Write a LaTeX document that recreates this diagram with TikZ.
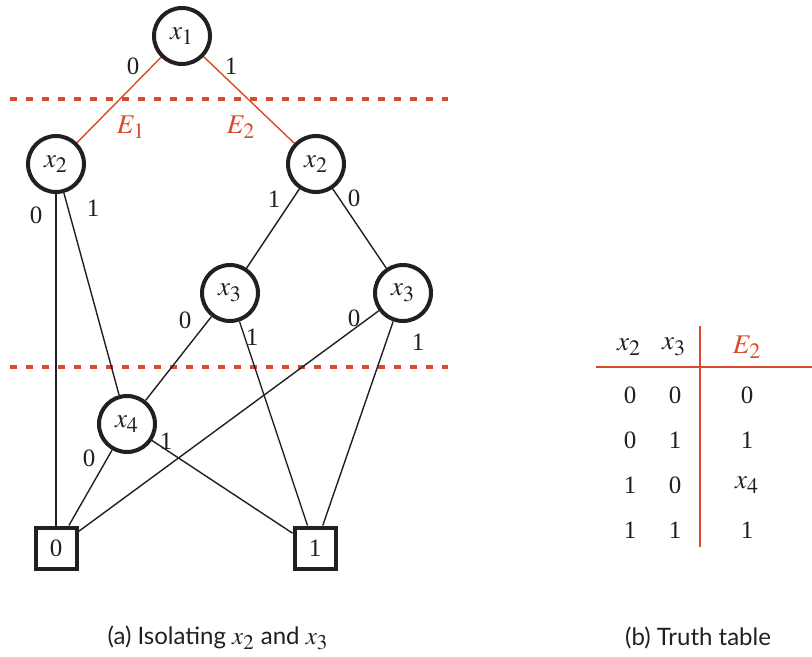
\documentclass[tikz,border=0pt]{standalone}
\usepackage{mathptmx}
\usepackage{fontspec}
\setmainfont{Liberation Serif}
\setsansfont{Lato}
\DeclareMathSizes{12.5}{13.5}{11}{8}
\DeclareMathSizes{12}{12.5}{10.5}{8}
\usetikzlibrary{positioning}
\definecolor{cutred}{HTML}{D84A2B}
\definecolor{ink}{HTML}{231F20}

\begin{document}
\begin{tikzpicture}[x=0.5pt, y=-0.5pt, font=\fontsize{12.5}{14}\selectfont, color=ink,
    var/.style={circle, draw, line width=2pt, minimum size=28pt, inner sep=0pt},
    leaf/.style={rectangle, draw, line width=2pt, minimum size=20.5pt, inner sep=0pt},
    arc/.style={line width=0.7pt},
    cutarc/.style={line width=0.7pt, cutred},
    cutline/.style={cutred, line width=2pt, dash pattern=on 3.6pt off 4.4pt},
    lbl/.style={inner sep=0pt},
    rule/.style={cutred, line width=0.8pt},
    caption/.style={font=\sffamily\fontsize{12}{14}\selectfont}]
    \useasboundingbox (0,0) rectangle (812,657);
    % nodes of the diagram
    \node[var] (x1) at (182,36) {$x_1$};
    \node[var] (x2a) at (56,164) {$x_2$};
    \node[var] (x2b) at (316,164) {$x_2$};
    \node[var] (x3a) at (230,293) {$x_3$};
    \node[var] (x3b) at (403,293) {$x_3$};
    \node[var] (x4) at (127,424) {$x_4$};
    \node[leaf] (t0) at (56,548) {0};
    \node[leaf] (t1) at (315,548) {1};
    % cuts
    \coordinate (cutAL) at (10,99);
    \coordinate (cutAR) at (448,99);
    \coordinate (cutBL) at (10,367);
    \coordinate (cutBR) at (448,367);
    \draw[cutline] (cutAL) -- (cutAR);
    \draw[cutline] (cutBL) -- (cutBR);
    % edges
    \draw[cutarc] (x1) -- (x2a);
    \draw[cutarc] (x1) -- (x2b);
    \draw[arc, line width=1pt] (x2a) -- (t0);
    \draw[arc] (x2a) -- (x4);
    \draw[arc] (x2b) -- (x3a);
    \draw[arc] (x2b) -- (x3b);
    \draw[arc] (x3a) -- (x4);
    \draw[arc] (x3a) -- (t1);
    \draw[arc] (x3b) -- (t0);
    \draw[arc] (x3b) -- (t1);
    \draw[arc] (x4) -- (t0);
    \draw[arc] (x4) -- (t1);
    % edge labels
    \node[lbl] (l1a) at (133,66) {0};
    \node[lbl] (l1b) at (231,66) {1};
    \node[lbl, cutred] (e1) at (131,127) {$E_1$};
    \node[lbl, cutred] (e2) at (241,127) {$E_2$};
    \node[lbl] (l2a) at (36,215) {0};
    \node[lbl] (l2b) at (93,208) {1};
    \node[lbl] (l3a) at (274,199) {1};
    \node[lbl] (l3b) at (354,198) {0};
    \node[lbl] (l4a) at (185,320) {0};
    \node[lbl] (l4b) at (252,337) {1};
    \node[lbl] (l5a) at (354,318) {0};
    \node[lbl] (l5b) at (418,342) {1};
    \node[lbl] (l6a) at (89,458) {0};
    \node[lbl] (l6b) at (166,441) {1};
    % truth table
    \coordinate (vtop) at (700,326);
    \coordinate (vbot) at (700,547);
    \coordinate (hleft) at (596,367);
    \coordinate (hright) at (812,367);
    \draw[rule] (vtop) -- (vbot);
    \draw[rule] (hleft) -- (hright);
    \node (hx2) at (629,347) {$x_2$};
    \node (hx3) at (674,347) {$x_3$};
    \node[cutred] (he2) at (747,347) {$E_2$};
    \foreach \a/\b/\e [count=\i] in {0/0/0, 0/1/1, 1/0/$x_4$, 1/1/1} {
      \node (ra\i) at (630,350+45*\i) {\a};
      \node (rb\i) at (675,350+45*\i) {\b};
      \node (re\i) at (747,350+45*\i) {\e};
    }
    % captions
    \node[caption] (capa) at (218,638) {(a) Isolating $x_2$ and $x_3$};
    \node[caption] (capb) at (698,638) {(b) Truth table};
\end{tikzpicture}
\end{document}
